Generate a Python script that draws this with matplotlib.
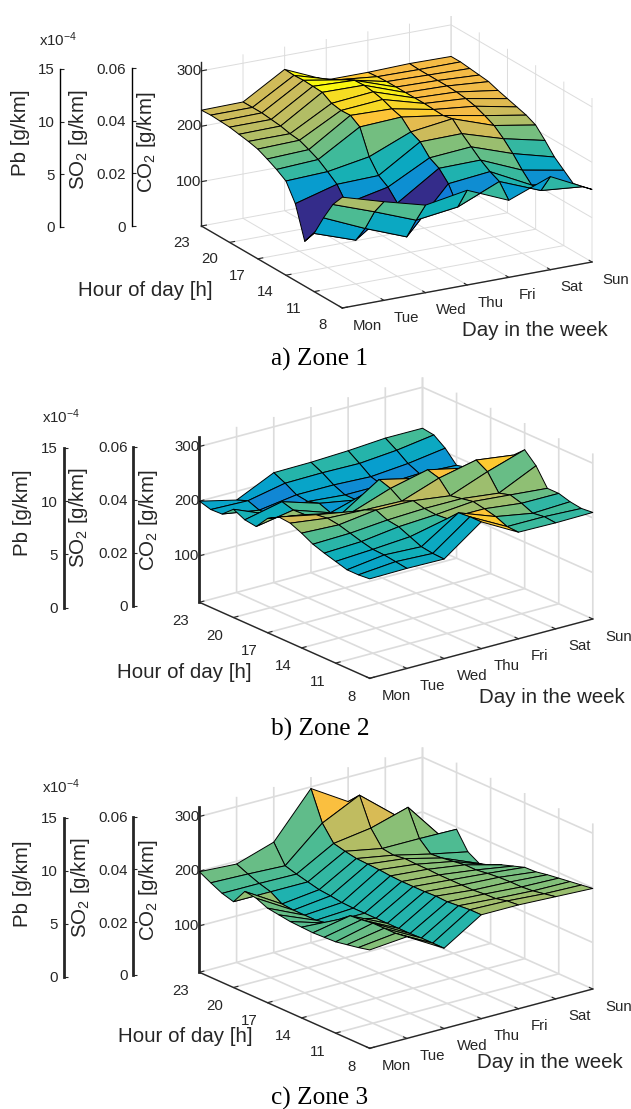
import numpy as np
import matplotlib
matplotlib.use("Agg")
import matplotlib.pyplot as plt
from matplotlib.colors import LinearSegmentedColormap, Normalize
from mpl_toolkits.mplot3d import Axes3D  # noqa

plt.rcParams['font.family'] = ['Liberation Sans', 'DejaVu Sans']
plt.rcParams['mathtext.fontset'] = 'custom'
plt.rcParams['mathtext.rm'] = 'Liberation Sans'
plt.rcParams['mathtext.default'] = 'rm'

W_PX, H_PX = 631, 1109
DAYS = ['Mon', 'Tue', 'Wed', 'Thu', 'Fri', 'Sat', 'Sun']
HOURS = list(range(8, 24))
HOUR_TICKS = [8, 11, 14, 17, 20, 23]
CO2_TICKS = [100, 200, 300]
PB_TICKS = [0, 5, 10, 15]
SO2_TICKS = [0, 0.02, 0.04, 0.06]
SO2_LABELS = ['0', '0.02', '0.04', '0.06']

# CO2 [g/km]: one list per day, hours 8..23
ZONE1 = [
    [220, 197, 163, 125, 101, 159, 190, 201, 210, 218, 222, 225, 228, 229, 230, 229],
    [198, 170, 130, 99, 155, 180, 193, 205, 213, 220, 222, 226, 228, 230, 230, 230],
    [178, 141, 101, 152, 171, 182, 206, 250, 261, 260, 263, 273, 274, 275, 274, 275],
    [191, 151, 183, 201, 210, 229, 237, 254, 259, 266, 270, 272, 271, 262, 252, 242],
    [159, 183, 191, 202, 216, 230, 247, 243, 244, 245, 245, 245, 245, 245, 244, 242],
    [188, 153, 153, 170, 190, 207, 221, 229, 236, 240, 242, 243, 243, 243, 243, 244],
    [151, 146, 142, 156, 170, 190, 208, 216, 221, 226, 231, 237, 239, 241, 243, 243],
]
ZONE2 = [
    [197, 195, 195, 201, 207, 214, 225, 234, 236, 224, 200, 203, 213, 195, 194, 200],
    [198, 201, 204, 205, 210, 216, 222, 225, 222, 213, 212, 218, 185, 184, 192, 184],
    [197, 198, 201, 210, 219, 222, 231, 222, 210, 197, 189, 197, 191, 194, 206, 216],
    [247, 247, 245, 225, 223, 225, 230, 220, 234, 241, 209, 185, 185, 194, 207, 217],
    [210, 211, 220, 225, 229, 225, 221, 244, 250, 225, 200, 190, 185, 191, 206, 220],
    [209, 211, 208, 217, 223, 217, 247, 259, 235, 210, 195, 190, 188, 197, 212, 225],
    [210, 208, 211, 217, 217, 249, 269, 250, 225, 205, 195, 190, 185, 207, 222, 225],
]
ZONE3 = [
    [195, 190, 186, 182, 181, 180, 181, 182, 185, 188, 197, 200, 172, 178, 188, 199],
    [201, 198, 198, 198, 195, 193, 177, 161, 157, 157, 157, 159, 172, 178, 186, 195],
    [162, 162, 162, 161, 161, 161, 161, 161, 161, 162, 165, 167, 172, 177, 183, 217],
    [205, 205, 203, 201, 202, 201, 201, 201, 202, 204, 205, 206, 210, 215, 243, 297],
    [205, 203, 198, 197, 195, 195, 195, 195, 196, 196, 197, 194, 197, 225, 276, 255],
    [202, 198, 194, 192, 192, 191, 189, 186, 186, 183, 180, 178, 197, 245, 220, 215],
    [199, 196, 193, 190, 187, 183, 182, 175, 168, 158, 152, 164, 196, 167, 170, 180],
]

# MATLAB parula anchors
PARULA = [(0.2081, 0.1663, 0.5292), (0.1253, 0.3242, 0.8303), (0.0060, 0.4086, 0.8828),
          (0.0779, 0.5040, 0.8384), (0.0239, 0.6287, 0.8038), (0.0590, 0.6838, 0.7254),
          (0.2586, 0.7317, 0.5954), (0.5300, 0.7491, 0.4661), (0.7858, 0.7356, 0.3633),
          (0.9739, 0.7314, 0.2666), (0.9955, 0.7861, 0.1967), (0.9626, 0.8705, 0.1309),
          (0.9763, 0.9831, 0.0538)]
PARULA_POS = [0, 6/63, 9/63, 16/63, 22/63, 28/63, 34/63, 40/63, 46/63, 52/63, 55/63, 59/63, 1]
parula = LinearSegmentedColormap.from_list('parula', list(zip(PARULA_POS, PARULA)))

INK = '#262626'
fig = plt.figure(figsize=(W_PX/100, H_PX/100), dpi=100, facecolor='white')


def fx(px):
    return px / W_PX


def fy(py):
    return 1 - py / H_PX


def ftext(px, py, s, **kw):
    kw.setdefault('ha', 'center')
    kw.setdefault('va', 'center')
    kw.setdefault('color', INK)
    fig.text(fx(px), fy(py), s, **kw)


def panel(zone, corner_23mon, corner_8mon, corner_8sun, z_height, zlim, clim, thick,
          pb_x, pb_span, so2_x, so2_span, labels, caption):
    vx = np.subtract(corner_8sun, corner_8mon) * np.array([1, -1])
    vy = np.subtract(corner_23mon, corner_8mon) * np.array([1, -1])
    a, b = vx[1] / vx[0], vy[1] / -vy[0]
    s = np.sqrt(a * b)
    t = np.arctan(np.sqrt(a / b))
    el = np.degrees(np.arcsin(s))
    az = np.degrees(np.arctan2(-np.cos(t), -np.sin(t)))
    Lx = vx[0] / np.cos(t)
    Ly = -vy[0] / np.sin(t)
    Lz = z_height / np.cos(np.radians(el))
    norm = np.sqrt(Lx**2 + Ly**2 + Lz**2)
    w = 1.85 * norm / (1.8294640721620434 * 25 / 24)
    cx = (corner_23mon[0] + corner_8sun[0]) / 2
    cy = (corner_23mon[1] + corner_8sun[1]) / 2 - z_height / 2
    frac = 0.095 / 0.185
    left = cx - frac * w
    top = cy + frac * w - w
    ax = fig.add_axes([fx(left), fy(top + w), w / W_PX, w / H_PX], projection='3d',
                      proj_type='ortho', facecolor='none')
    ax.set_box_aspect((Lx, Ly, Lz))
    ax.view_init(elev=el, azim=az)
    ax.set_xlim(0, 6)
    ax.set_ylim(8, 23)
    ax.set_zlim(*zlim)

    Z = np.array(zone, dtype=float).T          # rows: hours, cols: days
    X, Y = np.meshgrid(np.arange(len(DAYS)), HOURS)
    colors = parula(Normalize(*clim, clip=True)(Z))
    ax.plot_surface(X, Y, Z, facecolors=colors, rstride=1, cstride=1, shade=False,
                    edgecolor='black', linewidth=0.7, antialiased=True)

    ax.set_xticks(range(len(DAYS)), DAYS)
    ax.set_yticks(HOUR_TICKS, [str(h) for h in HOUR_TICKS])
    ax.set_zticks(CO2_TICKS, [str(v) for v in CO2_TICKS])
    ax.zaxis.set_ticks_position('upper')
    ax.tick_params(axis='x', labelsize=10.8, pad=3.5, colors=INK)
    ax.tick_params(axis='y', labelsize=10.8, pad=5, colors=INK)
    ax.tick_params(axis='z', labelsize=10.8, pad=-8, colors=INK)
    for lab in ax.get_xticklabels():
        lab.set_ha('left')
        lab.set_va('center')
    for lab in ax.get_yticklabels():
        lab.set_va('center')
    for lab in ax.get_zticklabels():
        lab.set_ha('right')
        lab.set_va('center')
    axis_lw = 2.0 if thick else 1.0
    grid_lw = 1.2 if thick else 0.7
    for axis in (ax.xaxis, ax.yaxis, ax.zaxis):
        axis.pane.set_facecolor((1, 1, 1, 0))
        axis.pane.set_edgecolor((1, 1, 1, 0))
        axis._axinfo['grid'].update(color='#dcdcdc', linewidth=grid_lw, linestyle='-')
        axis._axinfo['tick'].update(inward_factor=0.0, outward_factor=0.25)
        axis._axinfo['tick']['linewidth'] = {True: 0.8, False: 0.5}
        axis._axinfo['tick']['color'] = INK
        axis.line.set_color(INK)
        axis.line.set_linewidth(1.0)
    ax.zaxis.line.set_linewidth(axis_lw)

    for x, (y0, y1), ticks, tl, vmax in ((pb_x, pb_span, PB_TICKS, [str(v) for v in PB_TICKS], 15),
                                        (so2_x, so2_span, SO2_TICKS, SO2_LABELS, 0.06)):
        a2 = fig.add_axes([fx(x), fy(y0), 2 / W_PX, (y0 - y1) / H_PX], facecolor='none')
        a2.set_ylim(0, vmax)
        a2.set_xticks([])
        a2.set_yticks(ticks, tl)
        for name, sp in a2.spines.items():
            sp.set_visible(name == 'left')
            sp.set_linewidth(axis_lw)
            sp.set_color(INK if thick else 'black')
        a2.tick_params(axis='y', direction='in', length=3, width=0.8, labelsize=10.8,
                       pad=4, colors=INK)

    ftext(*labels['pb'], 'Pb [g/km]', rotation=90, fontsize=14.8)
    ftext(*labels['so2'], 'SO$_{2}$ [g/km]', rotation=90, fontsize=14.8)
    ftext(*labels['co2'], 'CO$_{2}$ [g/km]', rotation=90, fontsize=14.8)
    ftext(*labels['hour'], 'Hour of day [h]', fontsize=14.8)
    ftext(*labels['day'], 'Day in the week', fontsize=14.8)
    ftext(*labels['exp'], 'x10$^{-4}$', fontsize=10.8)
    ftext(*labels['cap'], caption, fontsize=18.2, family='Liberation Serif', color='black')


panel(ZONE1, (201.4, 226), (342.3, 308), (592, 262), 164, (20, 316), (100, 275), False,
      60, (226.5, 69), 131.7, (226, 68),
      dict(pb=(20, 133), so2=(78.5, 140), co2=(147, 142), hour=(145, 290), day=(534.6, 331),
           exp=(58, 40), cap=(319.6, 359.3)), 'a) Zone 1')
panel(ZONE2, (199.4, 602.3), (369.7, 678.3), (592.8, 619), 165.6, (15, 318), (155, 260), True,
      63.6, (607.7, 447.7), 133, (605.7, 446.7),
      dict(pb=(23, 513), so2=(79, 518), co2=(148, 520), hour=(184, 673), day=(551.7, 697.7),
           exp=(61, 417), cap=(320.6, 729.3)), 'b) Zone 2')
panel(ZONE3, (199.4, 972.3), (369.7, 1048.3), (592.8, 989), 165.6, (15, 318), (50, 280), True,
      63.6, (976.7, 817.7), 133, (975, 816.7),
      dict(pb=(23, 883.3), so2=(80.5, 888), co2=(148, 890), hour=(185, 1036.7), day=(550, 1063),
           exp=(61, 786.7), cap=(319.6, 1098)), 'c) Zone 3')

fig.savefig('out.png', dpi=100, facecolor='white')
